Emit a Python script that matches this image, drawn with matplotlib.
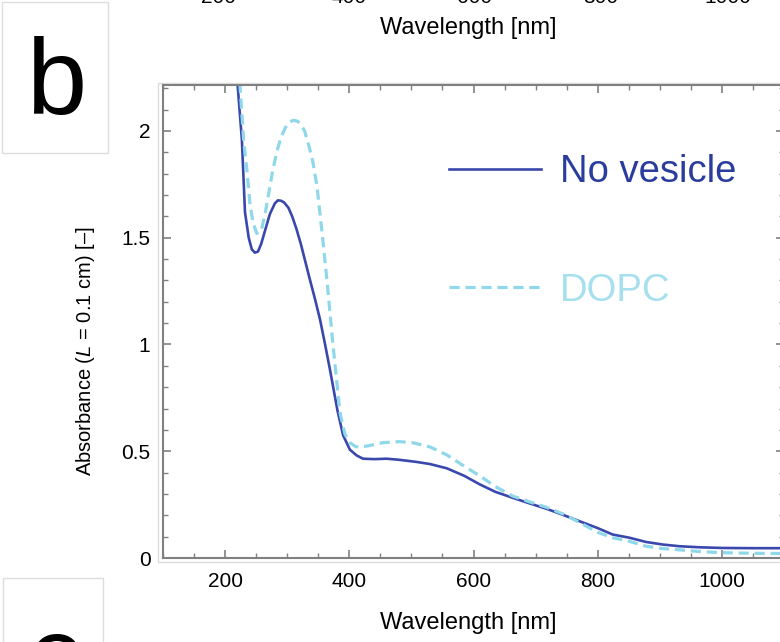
import matplotlib
matplotlib.use("Agg")
import matplotlib.pyplot as plt
from matplotlib.patches import Rectangle
from matplotlib.ticker import MultipleLocator

plt.rcParams['font.family'] = ['Liberation Sans', 'DejaVu Sans']
plt.rcParams['mathtext.fontset'] = 'custom'
plt.rcParams['mathtext.it'] = 'Liberation Sans:italic'
plt.rcParams['mathtext.rm'] = 'Liberation Sans'

# absorbance spectra, no vesicle
wl_none = [215, 220, 227, 232, 238, 243, 248, 253, 258, 264, 272, 280, 285, 290,
           295, 302, 308, 315, 322, 329, 336, 345, 353, 361, 369, 375, 381, 390,
           401, 412, 422, 440, 460, 480, 508, 530, 557, 585, 610, 635, 663, 690,
           718, 745, 771, 800, 824, 851, 878, 905, 932, 965, 1001, 1050, 1100]
abs_none = [2.55, 2.22, 1.96, 1.62, 1.50, 1.445, 1.43, 1.435, 1.47, 1.53, 1.61,
            1.66, 1.675, 1.673, 1.665, 1.64, 1.60, 1.54, 1.47, 1.39, 1.31, 1.21,
            1.115, 1.00, 0.88, 0.785, 0.69, 0.575, 0.507, 0.48, 0.465, 0.463,
            0.465, 0.46, 0.45, 0.44, 0.42, 0.385, 0.345, 0.31, 0.282, 0.256,
            0.23, 0.201, 0.172, 0.14, 0.11, 0.095, 0.075, 0.063, 0.055, 0.05,
            0.047, 0.046, 0.046]

# absorbance spectra, DOPC vesicles
wl_dopc = [218, 224, 230, 235, 240, 245, 251, 258, 265, 271, 277, 284, 290, 297,
           303, 310, 317, 323, 328, 335, 341, 348, 357, 364, 374, 385, 393, 401,
           410, 417, 430, 454, 480, 502, 530, 557, 585, 610, 635, 663, 690, 718,
           745, 771, 800, 824, 851, 878, 905, 932, 965, 1001, 1050, 1100]
abs_dopc = [2.6, 2.21, 1.95, 1.82, 1.66, 1.57, 1.52, 1.53, 1.62, 1.72, 1.82,
            1.91, 1.97, 2.015, 2.04, 2.05, 2.045, 2.025, 2.0, 1.93, 1.86, 1.74,
            1.50, 1.30, 0.99, 0.68, 0.58, 0.54, 0.522, 0.52, 0.525, 0.54, 0.545,
            0.54, 0.52, 0.483, 0.43, 0.385, 0.335, 0.29, 0.263, 0.237, 0.205,
            0.166, 0.12, 0.095, 0.078, 0.055, 0.044, 0.038, 0.03, 0.025, 0.022,
            0.021]

c_none = '#3a48ad'
c_dopc = '#8ed8ea'
grey = '#808080'

fig = plt.figure(figsize=(7.8, 6.42), dpi=100)
ax = fig.add_axes([163 / 780, 84 / 642, 621 / 780, 473 / 642])

ax.plot(wl_none, abs_none, color=c_none, lw=1.9, label='No vesicle')
ax.plot(wl_dopc, abs_dopc, color=c_dopc, lw=2.3, dashes=(3.2, 1.8), label='DOPC')

ax.set_xlim(100, 1100)
ax.set_ylim(0, 2.215)
ax.xaxis.set_minor_locator(MultipleLocator(50))
ax.yaxis.set_minor_locator(MultipleLocator(0.1))
ax.set_yticks([0, 0.5, 1, 1.5, 2])
ax.set_yticklabels(['0', '0.5', '1', '1.5', '2'])
ax.set_xticks([200, 400, 600, 800, 1000])

ax.tick_params(which='both', direction='in', top=True, right=True, color=grey,
               labelsize=15)
ax.tick_params(which='major', length=6, width=1.2)
ax.tick_params(which='minor', length=3.5, width=1.0)
ax.tick_params(axis='y', pad=9)
ax.tick_params(axis='x', pad=10)
for s in ax.spines.values():
    s.set_color(grey)
    s.set_linewidth(1.5)

# faint outer frame around the plotting area
ax.add_patch(Rectangle((-0.008, -0.008), 1.016, 1.012, transform=ax.transAxes,
                       fill=False, edgecolor='#dcdcdc', lw=1, clip_on=False))

ax.set_xlabel('Wavelength [nm]', fontsize=17)
ax.set_ylabel(r'Absorbance ($\mathit{L}$ = 0.1 cm) [–]', fontsize=14.5)
ax.xaxis.set_label_coords(0.491, -0.114)
ax.yaxis.set_label_coords(-0.106, 0.4376)

leg = ax.legend(loc='center left', bbox_to_anchor=(449 / 780, 1 - 231.5 / 642),
                bbox_transform=fig.transFigure, frameon=False, fontsize=27.5,
                borderpad=0, borderaxespad=0, handlelength=2.4,
                handletextpad=0.5, labelspacing=2.15)
for txt, col in zip(leg.get_texts(), ['#2b3d9c', '#a6e0ee']):
    txt.set_color(col)

# panel letters and the edges of neighbouring panels
fig.patches.append(Rectangle((2 / 780, 1 - 153 / 642), 106 / 780, 151 / 642,
                             transform=fig.transFigure, fill=False,
                             edgecolor='#dddddd', lw=1))
fig.text(56 / 780, 1 - 86 / 642, 'b', fontsize=78, ha='center', va='center')
fig.patches.append(Rectangle((3 / 780, -0.2), 100 / 780, 0.2 + 1 - 578 / 642,
                             transform=fig.transFigure, fill=False,
                             edgecolor='#dddddd', lw=1))
fig.text(55 / 780, 1 - 664 / 642, 'c', fontsize=78, ha='center', va='center')

fig.text(468 / 780, 1 - 28 / 642, 'Wavelength [nm]', fontsize=17,
         ha='center', va='center')
for xp, lab in zip([218, 349, 475, 601, 728], ['200', '400', '600', '800', '1000']):
    fig.text(xp / 780, 1 - 3 / 642, lab, fontsize=15, ha='center', va='baseline')

fig.savefig('out.png', dpi=100)
